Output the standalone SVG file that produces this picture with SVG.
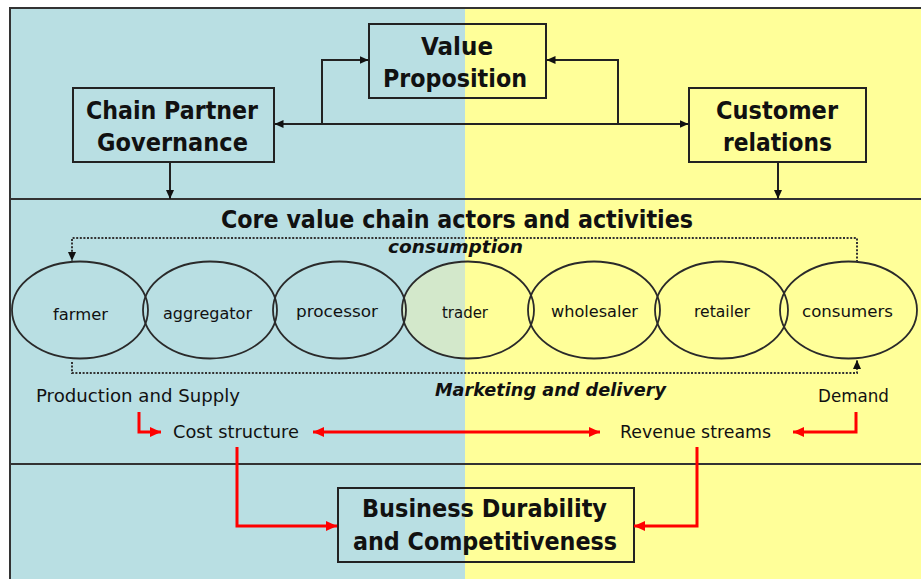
<svg xmlns="http://www.w3.org/2000/svg" width="921" height="579" viewBox="0 0 921 579">
<style>
.box{fill:none;stroke:#222;stroke-width:2}
.ell{fill:none;stroke:#2a2a2a;stroke-width:1.8}
.sep{stroke:#333;stroke-width:2}
.bt{font-family:"DejaVu Sans",Verdana,sans-serif;font-weight:bold;font-size:24px;fill:#111;text-anchor:middle}
.it{font-family:"DejaVu Sans",Verdana,sans-serif;font-weight:bold;font-style:italic;font-size:17px;fill:#111;text-anchor:middle}
.et{font-family:"DejaVu Sans",Verdana,sans-serif;font-size:16px;fill:#111;text-anchor:middle}
.lt{font-family:"DejaVu Sans",Verdana,sans-serif;font-size:18px;fill:#111;text-anchor:middle}
.bl{fill:none;stroke:#222;stroke-width:2}
.dot{fill:none;stroke:#333;stroke-width:2;stroke-dasharray:2 1.6}
.red{fill:none;stroke:#ff0000;stroke-width:3}
</style>
<defs>
<marker id="ab" markerUnits="userSpaceOnUse" markerWidth="10" markerHeight="10" refX="9" refY="5" orient="auto" viewBox="0 0 10 10">
<path d="M0,1 L9,5 L0,9 z" fill="#111"/>
</marker>
<marker id="ar" markerUnits="userSpaceOnUse" markerWidth="12" markerHeight="12" refX="11" refY="6" orient="auto" viewBox="0 0 12 12">
<path d="M0,1 L11,6 L0,11 z" fill="#ff0000"/>
</marker>
<clipPath id="leftHalf"><rect x="0" y="0" width="465" height="579"/></clipPath>
</defs>

<rect x="0" y="0" width="921" height="579" fill="#ffffff"/>
<rect x="10" y="8" width="455" height="571" fill="#b9dfe3"/>
<rect x="465" y="8" width="456" height="571" fill="#ffff99"/>
<line class="sep" x1="9" y1="8" x2="921" y2="8"/>
<line class="sep" x1="10" y1="7" x2="10" y2="579"/>
<line class="sep" x1="10" y1="199" x2="921" y2="199"/>
<line class="sep" x1="10" y1="464" x2="921" y2="464"/>

<g id="value-proposition">
<rect class="box" x="369" y="24" width="177" height="74"/>
<text class="bt" x="457" y="55" textLength="72" lengthAdjust="spacingAndGlyphs">Value</text>
<text class="bt" x="455" y="87" textLength="144" lengthAdjust="spacingAndGlyphs">Proposition</text>
</g>
<g id="chain-partner-governance">
<rect class="box" x="73" y="88" width="201" height="74"/>
<text class="bt" x="172" y="119" textLength="172" lengthAdjust="spacingAndGlyphs">Chain Partner</text>
<text class="bt" x="172.5" y="151" textLength="151" lengthAdjust="spacingAndGlyphs">Governance</text>
</g>
<g id="customer-relations">
<rect class="box" x="689" y="88" width="177" height="74"/>
<text class="bt" x="777" y="119" textLength="122" lengthAdjust="spacingAndGlyphs">Customer</text>
<text class="bt" x="777.5" y="151" textLength="109" lengthAdjust="spacingAndGlyphs">relations</text>
</g>
<g id="core-title">
<text class="bt" x="457" y="228" textLength="472" lengthAdjust="spacingAndGlyphs">Core value chain actors and activities</text>
</g>

<g id="trader-fill">
<ellipse cx="468" cy="310" rx="66" ry="48.5" fill="#d3e8cb" clip-path="url(#leftHalf)"/>
</g>
<g id="farmer">
<ellipse class="ell" cx="80" cy="310" rx="68" ry="48.5"/>
<text class="et" x="80.5" y="320" textLength="55" lengthAdjust="spacingAndGlyphs">farmer</text>
</g>
<g id="aggregator">
<ellipse class="ell" cx="210" cy="310" rx="67" ry="48.5"/>
<text class="et" x="207.5" y="319" textLength="89" lengthAdjust="spacingAndGlyphs">aggregator</text>
</g>
<g id="processor">
<ellipse class="ell" cx="339.5" cy="310" rx="66.5" ry="48.5"/>
<text class="et" x="337" y="317" textLength="82" lengthAdjust="spacingAndGlyphs">processor</text>
</g>
<g id="trader">
<ellipse class="ell" cx="468" cy="310" rx="66" ry="48.5"/>
<text class="et" x="465" y="318" textLength="46" lengthAdjust="spacingAndGlyphs">trader</text>
</g>
<g id="wholesaler">
<ellipse class="ell" cx="594" cy="310" rx="66" ry="48.5"/>
<text class="et" x="594.5" y="317" textLength="87" lengthAdjust="spacingAndGlyphs">wholesaler</text>
</g>
<g id="retailer">
<ellipse class="ell" cx="721.5" cy="310" rx="66.5" ry="48.5"/>
<text class="et" x="722" y="317" textLength="56" lengthAdjust="spacingAndGlyphs">retailer</text>
</g>
<g id="consumers">
<ellipse class="ell" cx="848.5" cy="310" rx="68.5" ry="48.5"/>
<text class="et" x="847.5" y="317" textLength="91" lengthAdjust="spacingAndGlyphs">consumers</text>
</g>

<g id="labels">
<text class="it" x="455.5" y="253" textLength="135" lengthAdjust="spacingAndGlyphs">consumption</text>
<text class="it" x="550.5" y="396" textLength="231" lengthAdjust="spacingAndGlyphs">Marketing and delivery</text>
<text class="lt" x="138" y="402" textLength="204" lengthAdjust="spacingAndGlyphs">Production and Supply</text>
<text class="lt" x="853.5" y="402" textLength="71" lengthAdjust="spacingAndGlyphs">Demand</text>
</g>
<g id="cost-structure">
<text class="lt" x="236" y="438" textLength="126" lengthAdjust="spacingAndGlyphs">Cost structure</text>
</g>
<g id="revenue-streams">
<text class="lt" x="695.5" y="438" textLength="151" lengthAdjust="spacingAndGlyphs">Revenue streams</text>
</g>
<g id="business-durability">
<rect class="box" x="338" y="488" width="296" height="74"/>
<text class="bt" x="484.5" y="517" textLength="245" lengthAdjust="spacingAndGlyphs">Business Durability</text>
<text class="bt" x="485" y="550" textLength="264" lengthAdjust="spacingAndGlyphs">and Competitiveness</text>
</g>

<g id="connectors">
<line class="bl" x1="322" y1="124" x2="274.5" y2="124" marker-end="url(#ab)"/>
<line class="bl" x1="322" y1="124" x2="688.5" y2="124" marker-end="url(#ab)"/>
<polyline class="bl" points="322,124 322,60 368.5,60" marker-end="url(#ab)"/>
<polyline class="bl" points="618,124 618,60 546.5,60" marker-end="url(#ab)"/>
<line class="bl" x1="170" y1="162" x2="170" y2="199" marker-end="url(#ab)"/>
<line class="bl" x1="778" y1="162" x2="778" y2="199" marker-end="url(#ab)"/>
<polyline class="dot" points="857,262 857,238 72,238 72,261" marker-end="url(#ab)"/>
<polyline class="dot" points="72,362 72,373 857,373 857,360" marker-end="url(#ab)"/>
<polyline class="red" points="139,412 139,432 161,432" marker-end="url(#ar)"/>
<line class="red" x1="456" y1="432" x2="313" y2="432" marker-end="url(#ar)"/>
<line class="red" x1="456" y1="432" x2="600" y2="432" marker-end="url(#ar)"/>
<polyline class="red" points="856,412 856,432 793,432" marker-end="url(#ar)"/>
<polyline class="red" points="237,447 237,526 337,526" marker-end="url(#ar)"/>
<polyline class="red" points="697,447 697,526 634,526" marker-end="url(#ar)"/>
</g>
</svg>
